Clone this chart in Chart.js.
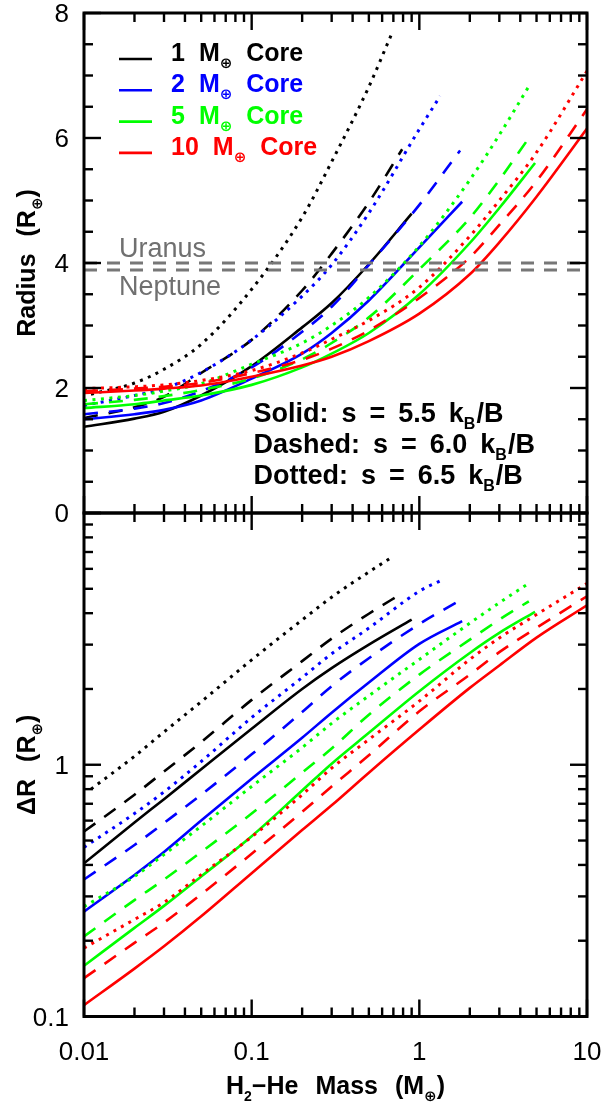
<!DOCTYPE html>
<html>
<head>
<meta charset="utf-8">
<script src="https://cdn.jsdelivr.net/npm/chart.js"></script>
<style>
html,body{margin:0;padding:0;background:#fff;width:602px;height:1103px;overflow:hidden;position:relative;}
canvas{position:absolute;left:0;}
#topC{top:0;}
#botC{top:490px;}
</style>
</head>
<body>
<canvas id="topC" width="602" height="540"></canvas>
<canvas id="botC" width="602" height="613"></canvas>
<script>
// ---------------- data ----------------
const coreNames = ['1', '2', '5', '10'];
const coreColors = ['#000000', '#0000ff', '#00ff00', '#ff0000'];
const styleNames = ['Solid:', 'Dashed:', 'Dotted:'];
const entropyValues = ['5.5', '6.0', '6.5'];

// H2-He mass (Earth masses) for each curve
const mass1Solid  = [0.01, 0.02, 0.03, 0.05, 0.1, 0.2, 0.3, 0.5, 0.9];
const mass1Dashed = [0.01, 0.02, 0.03, 0.05, 0.1, 0.2, 0.3, 0.5, 0.79];
const mass1Dotted = [0.011, 0.02, 0.03, 0.05, 0.1, 0.2, 0.3, 0.5, 0.68];
const mass2Solid  = [0.01, 0.02, 0.03, 0.05, 0.1, 0.2, 0.3, 0.5, 1, 1.8];
const mass2Dashed = [0.01, 0.02, 0.03, 0.05, 0.1, 0.2, 0.3, 0.5, 1, 1.75];
const mass2Dotted = [0.01, 0.02, 0.03, 0.05, 0.1, 0.2, 0.3, 0.5, 1, 1.33];
const mass5Solid  = [0.01, 0.02, 0.03, 0.05, 0.1, 0.2, 0.3, 0.5, 1, 2, 3, 4.9];
const mass5Dashed = [0.01, 0.02, 0.03, 0.05, 0.1, 0.2, 0.3, 0.5, 1, 2, 3, 4.5];
const mass5Dotted = [0.01, 0.02, 0.03, 0.05, 0.1, 0.2, 0.3, 0.5, 1, 2, 3, 4.6];
const mass10Solid  = [0.01, 0.02, 0.03, 0.05, 0.1, 0.2, 0.3, 0.5, 1, 2, 3, 5, 10];
const mass10Dashed = [0.01, 0.02, 0.03, 0.05, 0.1, 0.2, 0.3, 0.5, 1, 2, 3, 5, 10];
const mass10Dotted = [0.01, 0.02, 0.03, 0.05, 0.1, 0.2, 0.3, 0.5, 1, 2, 3, 5, 10];

// Radius (Earth radii), top panel
const radius1Solid  = [1.38, 1.51, 1.62, 1.88, 2.35, 2.97, 3.36, 3.98, 4.79];
const radius1Dashed = [1.52, 1.69, 1.86, 2.24, 2.77, 3.56, 4.15, 4.97, 5.82];
const radius1Dotted = [1.90, 2.08, 2.30, 2.70, 3.58, 4.73, 5.62, 6.82, 7.65];
const radius2Solid  = [1.50, 1.58, 1.65, 1.80, 2.15, 2.55, 2.88, 3.40, 4.25, 4.98];
const radius2Dashed = [1.58, 1.67, 1.76, 1.95, 2.33, 2.90, 3.30, 3.97, 4.93, 5.80];
const radius2Dotted = [1.72, 1.88, 1.99, 2.25, 2.77, 3.47, 3.97, 4.80, 6.14, 6.67];
const radius5Solid  = [1.68, 1.74, 1.80, 1.88, 2.05, 2.33, 2.55, 2.88, 3.50, 4.32, 4.88, 5.60];
const radius5Dashed = [1.74, 1.81, 1.87, 1.97, 2.15, 2.46, 2.72, 3.13, 3.90, 4.72, 5.33, 6.00];
const radius5Dotted = [1.80, 1.88, 1.95, 2.07, 2.38, 2.72, 3.00, 3.45, 4.27, 5.33, 6.05, 6.87];
const radius10Solid  = [1.92, 1.96, 1.99, 2.04, 2.18, 2.36, 2.50, 2.75, 3.19, 3.82, 4.33, 5.06, 6.15];
const radius10Dashed = [1.95, 1.99, 2.02, 2.08, 2.24, 2.45, 2.63, 2.92, 3.44, 4.09, 4.61, 5.31, 6.46];
const radius10Dotted = [1.99, 2.02, 2.05, 2.12, 2.28, 2.56, 2.78, 3.08, 3.61, 4.43, 5.00, 5.77, 7.07];

// Delta R (Earth radii), bottom panel
const deltaR1Solid  = [0.406, 0.59, 0.73, 0.96, 1.39, 2.00, 2.42, 3.00, 3.77];
const deltaR1Dashed = [0.543, 0.76, 0.94, 1.23, 1.81, 2.58, 3.17, 3.98, 4.80];
const deltaR1Dotted = [0.80, 1.08, 1.35, 1.78, 2.61, 3.76, 4.63, 5.83, 6.65];
const deltaR2Solid  = [0.261, 0.365, 0.45, 0.60, 0.88, 1.28, 1.61, 2.12, 3.02, 3.72];
const deltaR2Dashed = [0.35, 0.48, 0.587, 0.76, 1.10, 1.62, 2.05, 2.65, 3.62, 4.50];
const deltaR2Dotted = [0.47, 0.64, 0.78, 1.03, 1.54, 2.22, 2.76, 3.49, 4.89, 5.38];
const deltaR5Solid  = [0.159, 0.225, 0.275, 0.36, 0.52, 0.79, 1.01, 1.34, 1.96, 2.78, 3.34, 4.05];
const deltaR5Dashed = [0.208, 0.29, 0.35, 0.45, 0.64, 0.93, 1.16, 1.58, 2.28, 3.14, 3.77, 4.46];
const deltaR5Dotted = [0.273, 0.36, 0.44, 0.57, 0.82, 1.17, 1.46, 1.88, 2.62, 3.65, 4.40, 5.31];
const deltaR10Solid  = [0.111, 0.155, 0.19, 0.25, 0.371, 0.55, 0.69, 0.93, 1.38, 2.02, 2.48, 3.20, 4.30];
const deltaR10Dashed = [0.142, 0.196, 0.236, 0.306, 0.443, 0.65, 0.82, 1.09, 1.63, 2.28, 2.80, 3.50, 4.67];
const deltaR10Dotted = [0.187, 0.243, 0.284, 0.366, 0.517, 0.76, 0.97, 1.26, 1.79, 2.62, 3.19, 3.95, 5.25];

// reference planets
const planetNames = ['Uranus', 'Neptune'];
const planetRadii = [4.00, 3.89];

// axes / ticks
const xMajorTicks = [0.01, 0.1, 1, 10];
const xMinorTicks = [0.02, 0.03, 0.04, 0.05, 0.06, 0.07, 0.08, 0.09,
                     0.2, 0.3, 0.4, 0.5, 0.6, 0.7, 0.8, 0.9,
                     2, 3, 4, 5, 6, 7, 8, 9];
const xTickLabels = ['0.01', '0.1', '1', '10'];
const topYMajor = [0, 2, 4, 6, 8];
const topYMinor = [0.5, 1, 1.5, 2.5, 3, 3.5, 4.5, 5, 5.5, 6.5, 7, 7.5];
const topYLabels = ['0', '2', '4', '6', '8'];
const botYMajor = [0.1, 1, 10];
const botYMinor = [0.2, 0.3, 0.4, 0.5, 0.6, 0.7, 0.8, 0.9, 2, 3, 4, 5, 6, 7, 8, 9];
const botYLabelValues = [0.1, 1];
const botYLabels = ['0.1', '1'];

// ---------------- build ----------------
const curves = [
  // core index, style index, mass, radius, deltaR  (drawing order: red on top)
  [3, 0, mass10Solid, radius10Solid, deltaR10Solid],
  [3, 1, mass10Dashed, radius10Dashed, deltaR10Dashed],
  [3, 2, mass10Dotted, radius10Dotted, deltaR10Dotted],
  [2, 0, mass5Solid, radius5Solid, deltaR5Solid],
  [2, 1, mass5Dashed, radius5Dashed, deltaR5Dashed],
  [2, 2, mass5Dotted, radius5Dotted, deltaR5Dotted],
  [1, 0, mass2Solid, radius2Solid, deltaR2Solid],
  [1, 1, mass2Dashed, radius2Dashed, deltaR2Dashed],
  [1, 2, mass2Dotted, radius2Dotted, deltaR2Dotted],
  [0, 0, mass1Solid, radius1Solid, deltaR1Solid],
  [0, 1, mass1Dashed, radius1Dashed, deltaR1Dashed],
  [0, 2, mass1Dotted, radius1Dotted, deltaR1Dotted]
];
const dashFor = [[], [14, 11], [3, 5.5]];
const widthFor = [2.6, 2.6, 3];

function pts(ms, vs) { return ms.map((m, i) => ({x: m, y: vs[i]})); }

function curveSets(which) {
  return curves.map(c => ({
    label: coreNames[c[0]] + ' ' + styleNames[c[1]],
    data: pts(c[2], which === 'top' ? c[3] : c[4]),
    borderColor: coreColors[c[0]],
    borderWidth: widthFor[c[1]],
    borderDash: dashFor[c[1]],
    borderCapStyle: 'butt',
    pointRadius: 0,
    fill: false,
    cubicInterpolationMode: 'monotone'
  }));
}

const topSets = planetRadii.map((r, i) => ({
  label: planetNames[i],
  data: [{x: xMajorTicks[0], y: r}, {x: xMajorTicks[xMajorTicks.length - 1], y: r}],
  borderColor: '#777777',
  borderWidth: 3,
  borderDash: [13, 10],
  pointRadius: 0,
  fill: false
})).concat(curveSets('top'));

const botSets = curveSets('bot');

// ---------------- text helpers ----------------
const FONT_FAMILY = '"Liberation Sans", Arial, sans-serif';
function mkFont(size) {
  return {main: 'bold ' + size + 'px ' + FONT_FAMILY, subSize: Math.round(size * 0.58)};
}
function subFont(t, f) {
  return t === '\u2295' ? 'bold ' + (f.subSize + 1) + 'px "DejaVu Sans", sans-serif' : 'bold ' + f.subSize + 'px ' + FONT_FAMILY;
}
function wordWidth(ctx, word, f) {
  let w = 0;
  word.forEach(seg => { ctx.font = seg[1] ? subFont(seg[0], f) : f.main; w += ctx.measureText(seg[0]).width + (seg[2] || 0); });
  return w;
}
function drawWords(ctx, words, x, y, f, gap, align) {
  const ws = words.map(w => wordWidth(ctx, w, f));
  const total = ws.reduce((a, b) => a + b, 0) + gap * (words.length - 1);
  let cx = align === 'center' ? x - total / 2 : x;
  ctx.textAlign = 'left';
  ctx.textBaseline = 'alphabetic';
  words.forEach(w => {
    w.forEach(seg => {
      ctx.font = seg[1] ? subFont(seg[0], f) : f.main;
      ctx.fillText(seg[0], cx, seg[1] ? y + 7 : y);
      cx += ctx.measureText(seg[0]).width + (seg[2] || 0);
    });
    cx += gap;
  });
}

function framePlugin(cfg) {
  return {
    id: 'frame_' + cfg.name,
    afterDraw(chart) {
      const ctx = chart.ctx, a = chart.chartArea;
      const xs = chart.scales.x, ys = chart.scales.y;
      ctx.save();
      ctx.strokeStyle = '#000';
      ctx.lineCap = 'butt';
      ctx.lineWidth = 2.4;
      const seg = (x0, y0, x1, y1) => { ctx.beginPath(); ctx.moveTo(x0, y0); ctx.lineTo(x1, y1); ctx.stroke(); };
      const xt = (vals, len) => vals.forEach(v => { const p = xs.getPixelForValue(v); seg(p, a.bottom, p, a.bottom - len); seg(p, a.top, p, a.top + len); });
      const yt = (vals, len) => vals.forEach(v => { const p = ys.getPixelForValue(v); seg(a.left, p, a.left + len, p); seg(a.right, p, a.right - len, p); });
      xt(xMajorTicks, 17); xt(xMinorTicks, 9);
      yt(cfg.yMajor, 17); yt(cfg.yMinor, 9);
      ctx.lineWidth = 3;
      ctx.strokeRect(a.left, a.top, a.right - a.left, a.bottom - a.top);

      // tick labels
      ctx.fillStyle = '#000';
      ctx.font = '26px ' + FONT_FAMILY;
      ctx.textAlign = 'right';
      ctx.textBaseline = 'alphabetic';
      cfg.yLabelValues.forEach((v, i) => ctx.fillText(cfg.yLabels[i], a.left - 15, ys.getPixelForValue(v) + 9.3));
      if (cfg.xLabels) {
        ctx.textAlign = 'center';
        xMajorTicks.forEach((v, i) => ctx.fillText(xTickLabels[i], xs.getPixelForValue(v), a.bottom + 43.5));
        drawWords(ctx, [[['H', 0], ['2', 1], ['\u2212He', 0]], [['Mass', 0]], [['(M', 0], ['\u2295', 1], [')', 0]]],
          (a.left + a.right) / 2, a.bottom + 77.5, mkFont(25), 17, 'center');
      }
      // y title (rotated)
      ctx.save();
      ctx.translate(35, (a.top + a.bottom) / 2);
      ctx.rotate(-Math.PI / 2);
      ctx.fillStyle = '#000';
      drawWords(ctx, cfg.yTitle, 0, 0, mkFont(25), 17, 'center');
      ctx.restore();

      if (cfg.name === 'top') {
        // planet labels
        ctx.fillStyle = '#707070';
        ctx.font = '27px ' + FONT_FAMILY;
        ctx.textAlign = 'left';
        ctx.fillText(planetNames[0], 119, ys.getPixelForValue(planetRadii[0]) - 6);
        ctx.fillText(planetNames[1], 119, ys.getPixelForValue(planetRadii[1]) + 25);
        // legend
        coreNames.forEach((n, i) => {
          const by = 61 + i * 31.3;
          ctx.strokeStyle = coreColors[i];
          ctx.lineWidth = 2.6;
          seg(119, by - 2, 152, by - 2);
          ctx.fillStyle = coreColors[i];
          drawWords(ctx, [[[n, 0]], [['M', 0], ['\u2295', 1]], [['Core', 0]]], 171, by, mkFont(25), 14, 'left');
        });
        // entropy annotation
        ctx.fillStyle = '#000';
        styleNames.forEach((s, i) => {
          drawWords(ctx, [[[s, 0]], [['s', 0]], [['=', 0]], [[entropyValues[i], 0]], [['k', 0], ['B', 1, 1], ['/B', 0]]],
            253.5, 422 + i * 30.8, mkFont(27), 13, 'left');
        });
      }
      ctx.restore();
    }
  };
}

Chart.defaults.font.family = FONT_FAMILY;

new Chart(document.getElementById('topC'), {
  type: 'line',
  data: {datasets: topSets},
  options: {
    responsive: false,
    animation: false,
    events: [],
    layout: {padding: {left: 84, right: 15, top: 13, bottom: 27}},
    plugins: {legend: {display: false}, tooltip: {enabled: false}},
    scales: {
      x: {type: 'logarithmic', min: 0.01, max: 10, display: false},
      y: {type: 'linear', min: 0, max: 8, display: false}
    }
  },
  plugins: [framePlugin({
    name: 'top', yMajor: topYMajor, yMinor: topYMinor,
    yLabelValues: topYMajor, yLabels: topYLabels, xLabels: false,
    yTitle: [[['Radius', 0]], [['(R', 0], ['\u2295', 1], [')', 0]]]
  })]
});

new Chart(document.getElementById('botC'), {
  type: 'line',
  data: {datasets: botSets},
  options: {
    responsive: false,
    animation: false,
    events: [],
    layout: {padding: {left: 84, right: 15, top: 23, bottom: 86.5}},
    plugins: {legend: {display: false}, tooltip: {enabled: false}},
    scales: {
      x: {type: 'logarithmic', min: 0.01, max: 10, display: false},
      y: {type: 'logarithmic', min: 0.1, max: 10, display: false}
    }
  },
  plugins: [framePlugin({
    name: 'bot', yMajor: botYMajor, yMinor: botYMinor,
    yLabelValues: botYLabelValues, yLabels: botYLabels, xLabels: true,
    yTitle: [[['\u0394R', 0]], [['(R', 0], ['\u2295', 1], [')', 0]]]
  })]
});
</script>
</body>
</html>
